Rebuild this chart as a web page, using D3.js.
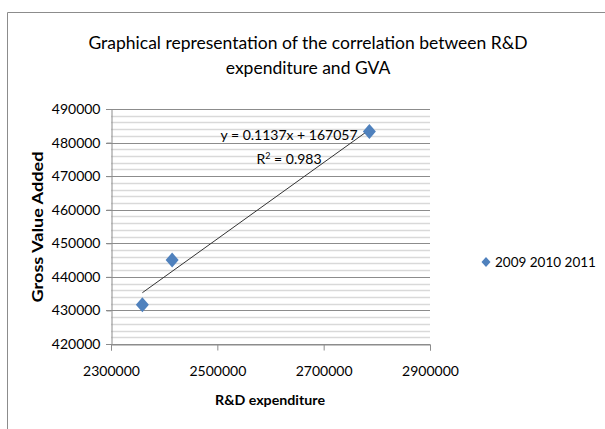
<!DOCTYPE html>
<html><head><meta charset="utf-8">
<script src="https://cdnjs.cloudflare.com/ajax/libs/d3/7.8.5/d3.min.js"></script>
<style>body{margin:0;background:#fff}svg{display:block}text{font-family:Lato,"Open Sans",sans-serif;fill:#000}</style>
</head><body><div id="c"></div>
<script>
const titleLines = ["Graphical representation of the correlation between R&D", "expenditure and GVA"];
const rdExpenditure = [2359000, 2415000, 2786000];
const grossValueAdded = [431700, 445000, 483300];
const seriesName = "2009 2010 2011";
const xTicks = [2300000, 2500000, 2700000, 2900000];
const yTicks = [420000, 430000, 440000, 450000, 460000, 470000, 480000, 490000];
const trendSlope = 0.1137, trendIntercept = 167057, rSquared = 0.983;
const xTitle = "R&D expenditure", yTitle = "Gross Value Added";

const W = 605, H = 429;
const svg = d3.select("#c").append("svg").attr("width", W).attr("height", H);
// chart border
svg.append("path").attr("d", "M7.5,429 L7.5,12.5 L605,12.5").attr("fill","none").attr("stroke","#8c8c8c").attr("stroke-width",1);

const plot = {l:111, r:430, t:109, b:344};
const x = d3.scaleLinear().domain([2300000, 2900000]).range([plot.l, plot.r]);
const y = d3.scaleLinear().domain([420000, 490000]).range([plot.b, plot.t]);

// minor gridlines
const minor = d3.range(420000, 490001, 2000).filter(v => v % 10000 !== 0);
svg.append("g").selectAll("line").data(minor).join("line")
  .attr("x1", plot.l).attr("x2", plot.r)
  .attr("y1", d => Math.round(y(d))+0.5).attr("y2", d => Math.round(y(d))+0.5)
  .attr("stroke", "#d9d9d9").attr("stroke-width", 1.5);
// major gridlines
svg.append("g").selectAll("line").data(yTicks).join("line")
  .attr("x1", plot.l-5).attr("x2", plot.r)
  .attr("y1", d => Math.round(y(d))+0.5).attr("y2", d => Math.round(y(d))+0.5)
  .attr("stroke", "#8c8c8c").attr("stroke-width", 1);

// y axis
const yAxis = svg.append("g").attr("transform", `translate(${plot.l+0.5},0)`)
  .call(d3.axisLeft(y).tickValues(yTicks).tickSize(5).tickPadding(6).tickFormat(d3.format("d")));
yAxis.select(".domain").attr("stroke", "#8c8c8c");
yAxis.selectAll(".tick line").attr("stroke", "#8c8c8c");
yAxis.selectAll("text").style("font-size", "14px").style("font-family", "Lato").attr("fill","#000");

// x axis
const xAxis = svg.append("g").attr("transform", `translate(0,${Math.round(y(420000))+0.5})`)
  .call(d3.axisBottom(x).tickValues(xTicks).tickSize(6).tickPadding(16).tickFormat(d3.format("d")));
xAxis.select(".domain").attr("stroke", "#8c8c8c");
xAxis.selectAll(".tick line").attr("stroke", "#8c8c8c");
xAxis.selectAll("text").style("font-size", "14px").style("font-family", "Lato").attr("fill","#000");

// trendline
const xs = d3.extent(rdExpenditure);
svg.append("line")
  .attr("x1", x(xs[0])).attr("y1", y(trendSlope*xs[0]+trendIntercept))
  .attr("x2", x(xs[1])).attr("y2", y(trendSlope*xs[1]+trendIntercept))
  .attr("stroke", "#333").attr("stroke-width", 1);

// markers
const diamond = (cx, cy, w, h) => `M${cx},${cy-h} L${cx+w},${cy} L${cx},${cy+h} L${cx-w},${cy} Z`;
svg.append("g").selectAll("path").data(rdExpenditure).join("path")
  .attr("d", (d,i) => diamond(x(d), y(grossValueAdded[i]), 6.5, 7.5))
  .attr("fill", "#4f81bd");

// equation
svg.append("text").attr("x", 289).attr("y", 140).attr("text-anchor","middle").style("font-size","14px")
  .text(`y = ${trendSlope}x + ${trendIntercept}`);
const r2 = svg.append("text").attr("x", 289).attr("y", 164).attr("text-anchor","middle").style("font-size","14px");
r2.append("tspan").text("R");
r2.append("tspan").attr("dy", -5).style("font-size","9px").text("2");
r2.append("tspan").attr("dy", 5).text(` = ${rSquared}`);

// title
svg.append("g").selectAll("text").data(titleLines).join("text")
  .attr("x", 308).attr("y", (d,i) => 49 + i*25).attr("text-anchor","middle")
  .style("font-size","17.5px").text(d => d);

// axis titles
svg.append("text").attr("x", 270).attr("y", 405).attr("text-anchor","middle")
  .attr("textLength", 110).attr("lengthAdjust","spacingAndGlyphs")
  .style("font-size","14px").style("font-weight","bold").text(xTitle);
svg.append("text").attr("transform", "translate(43,227) rotate(-90)").attr("text-anchor","middle")
  .attr("textLength", 151).attr("lengthAdjust","spacingAndGlyphs")
  .style("font-size","15px").style("font-weight","bold").text(yTitle);

// legend
svg.append("path").attr("d", diamond(486, 262, 4.5, 5)).attr("fill", "#4f81bd");
svg.append("text").attr("x", 495).attr("y", 267).style("font-size","13.5px").text(seriesName);
</script></body></html>
